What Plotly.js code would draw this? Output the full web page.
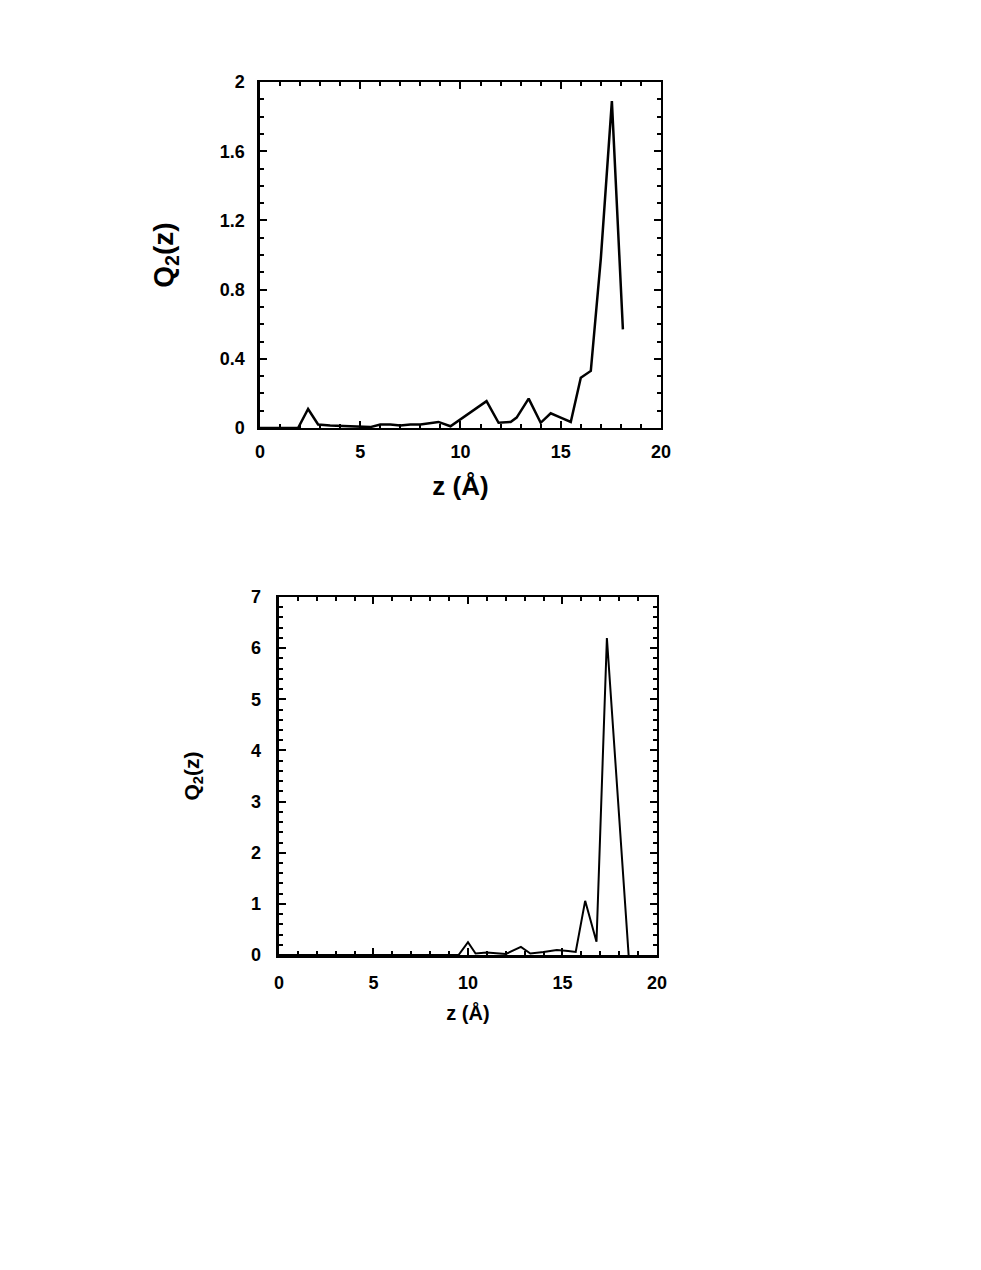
<!DOCTYPE html>
<html>
<head>
<meta charset="utf-8">
<script src="https://cdn.plot.ly/plotly-3.0.1.min.js"></script>
<style>html,body{margin:0;padding:0;background:#fff;}#chart{width:981px;height:1270px;}</style>
</head>
<body>
<div id="chart"></div>
<script>
// Top panel
const zTop = [0, 1.9, 2.4, 2.9, 3.5, 4.5, 5.5, 6.0, 6.5, 7.0, 7.5, 8.0, 8.5, 8.9, 9.5, 10.1, 10.6, 11.3, 11.9, 12.5, 12.8, 13.4, 14.0, 14.5, 15.0, 15.5, 16.0, 16.5, 17.0, 17.55, 18.1];
const qTop = [0, 0, 0.11, 0.02, 0.015, 0.01, 0.005, 0.02, 0.02, 0.015, 0.02, 0.02, 0.03, 0.035, 0.01, 0.06, 0.1, 0.155, 0.03, 0.035, 0.06, 0.17, 0.03, 0.085, 0.06, 0.035, 0.29, 0.33, 0.98, 1.89, 0.57];
// Bottom panel
const zBot = [0, 8.0, 9.5, 10.0, 10.4, 11.0, 11.5, 12.0, 12.8, 13.3, 14.0, 14.7, 15.3, 15.7, 16.2, 16.8, 17.35, 18.5];
const qBot = [0, 0.01, 0.0, 0.25, 0.03, 0.05, 0.03, 0.02, 0.16, 0.03, 0.06, 0.1, 0.08, 0.06, 1.06, 0.26, 6.2, 0];

const xTicks = [0, 5, 10, 15, 20];
const yTicksTop = [0, 0.4, 0.8, 1.2, 1.6, 2];
const yTickTextTop = ['0', '0.4', '0.8', '1.2', '1.6', '2'];
const yTicksBot = [0, 1, 2, 3, 4, 5, 6, 7];

const FONT = 'Liberation Sans, Arial, sans-serif';

function axis(opts) {
  return Object.assign({
    showline: true, linecolor: '#000', linewidth: 2.5, mirror: 'ticks',
    ticks: 'inside', ticklen: 7, tickwidth: 2, tickcolor: '#000',
    showgrid: false, zeroline: false, fixedrange: true,
    tickfont: {family: FONT, size: 18, color: '#000', weight: 'bold'}
  }, opts);
}

const traces = [
  {x: zTop, y: qTop, type: 'scatter', mode: 'lines', line: {color: '#000', width: 2.5}, xaxis: 'x', yaxis: 'y', hoverinfo: 'skip'},
  {x: zBot, y: qBot, type: 'scatter', mode: 'lines', line: {color: '#000', width: 2}, xaxis: 'x2', yaxis: 'y2', hoverinfo: 'skip'}
];

const layout = {
  width: 981, height: 1270,
  margin: {l: 0, r: 0, t: 0, b: 0},
  paper_bgcolor: '#fff', plot_bgcolor: '#fff',
  showlegend: false,
  xaxis: axis({
    domain: [0.2650, 0.6738], anchor: 'y', range: [0, 20],
    tickvals: xTicks, ticklabelstandoff: 6,
    minor: {dtick: 1, ticklen: 4, tickwidth: 2, tickcolor: '#000', ticks: 'inside'},
    title: {text: 'z (Å)', font: {family: FONT, size: 26, color: '#000', weight: 'bold'}, standoff: 16}
  }),
  yaxis: axis({
    domain: [0.6630, 0.9354], anchor: 'x', range: [0, 2],
    tickvals: yTicksTop, ticktext: yTickTextTop, ticklabelstandoff: 9,
    minor: {dtick: 0.1, ticklen: 4, tickwidth: 2, tickcolor: '#000', ticks: 'inside'},
    title: {text: 'Q<sub>2</sub>(z)', font: {family: FONT, size: 28, color: '#000', weight: 'bold'}, standoff: 38}
  }),
  xaxis2: axis({
    domain: [0.2844, 0.6697], anchor: 'y2', range: [0, 20],
    tickvals: xTicks, ticklabelstandoff: 10,
    minor: {dtick: 1, ticklen: 4, tickwidth: 2, tickcolor: '#000', ticks: 'inside'},
    title: {text: 'z (Å)', font: {family: FONT, size: 20, color: '#000', weight: 'bold'}, standoff: 14}
  }),
  yaxis2: axis({
    domain: [0.2480, 0.5299], anchor: 'x2', range: [0, 7],
    tickvals: yTicksBot, ticklabelstandoff: 12,
    minor: {dtick: 0.2, ticklen: 4, tickwidth: 2, tickcolor: '#000', ticks: 'inside'},
    title: {text: 'Q<sub>2</sub>(z)', font: {family: FONT, size: 21, color: '#000', weight: 'bold'}, standoff: 46}
  })
};

Plotly.newPlot('chart', traces, layout, {displayModeBar: false, staticPlot: true});
</script>
</body>
</html>
